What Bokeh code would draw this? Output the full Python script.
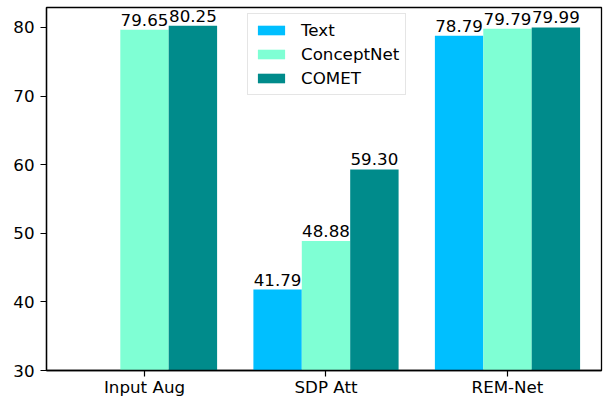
from bokeh.plotting import figure
from bokeh.models import ColumnDataSource, FixedTicker, Legend, LegendItem, Range1d
from bokeh.embed import file_html
from bokeh.resources import INLINE

categories = ["Input Aug", "SDP Att", "REM-Net"]
series_names = ["Text", "ConceptNet", "COMET"]
text_vals = [0.0, 41.79, 78.79]
conceptnet_vals = [79.65, 48.88, 79.79]
comet_vals = [80.25, 59.30, 79.99]
colors = ["#00BFFF", "#7FFFD4", "#008B8B"]
y_ticks = [30, 40, 50, 60, 70, 80]

FONT = "DejaVu Sans"
FS = "16.7px"
bw = 0.8 / 3

p = figure(frame_width=555, frame_height=363, output_backend="svg", toolbar_location=None,
           x_range=Range1d(-0.54, 2.518), y_range=Range1d(30, 82.9),
           min_border_left=46, min_border_right=6, min_border_top=7, min_border_bottom=20)
p.grid.visible = False
p.background_fill_color = "white"
p.border_fill_color = "white"
p.outline_line_color = "black"
p.outline_line_width = 1.3

items = []
for k, (name, vals, col) in enumerate(zip(series_names, [text_vals, conceptnet_vals, comet_vals], colors)):
    off = (k - 1) * bw
    xs = [i + off for i in range(len(categories))]
    src = ColumnDataSource(dict(x=xs, top=vals))
    r = p.vbar(x="x", top="top", bottom=0, width=bw, source=src, fill_color=col, line_color=None)
    shown = [j for j, v in enumerate(vals) if v > 0]
    lsrc = ColumnDataSource(dict(x=[xs[j] for j in shown], top=[vals[j] for j in shown],
                                 lab=["%.2f" % vals[j] for j in shown]))
    p.text(x="x", y="top", text="lab", source=lsrc, text_align="center", text_baseline="bottom",
           y_offset=-4, text_font={"value": FONT}, text_font_size=FS, text_color="black")
    items.append(LegendItem(label=name, renderers=[r]))

legend = Legend(items=items, location=(201, 275), glyph_width=34, glyph_height=12,
                label_standoff=13, label_height=20, spacing=4, padding=6, margin=0,
                label_text_font=FONT, label_text_font_size=FS, label_text_color="black",
                border_line_color="#cccccc", border_line_width=1.2, background_fill_alpha=1.0)
p.add_layout(legend, "center")

p.xaxis.ticker = FixedTicker(ticks=[0, 1, 2])
p.xaxis.major_label_overrides = {0: "Input Aug", 1: "SDP Att", 2: "REM-Net"}
p.yaxis.ticker = FixedTicker(ticks=y_ticks)
for ax in (p.xaxis, p.yaxis):
    ax.minor_tick_line_color = None
    ax.major_tick_out = 6
    ax.major_tick_in = 0
    ax.major_tick_line_color = "black"
    ax.major_tick_line_width = 1.2
    ax.axis_line_color = "black"
    ax.axis_line_width = 1.3
    ax.major_label_text_font = FONT
    ax.major_label_text_font_size = FS
    ax.major_label_text_color = "black"
p.xaxis.major_label_standoff = 0
p.yaxis.major_label_standoff = 6

open("out.html", "w").write(file_html(p, INLINE))
